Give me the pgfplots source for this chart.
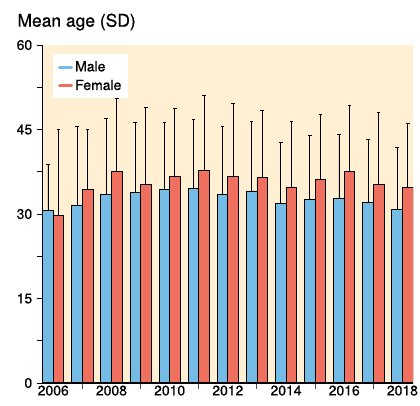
\documentclass[border=0pt]{standalone}
\usepackage{pgfplots}
\pgfplotsset{compat=1.18}
\usepackage{pgfplotstable}
\usepackage{fontspec}
\setmainfont{TeX Gyre Heros}[FakeBold=0.6]
\definecolor{bgC}{RGB}{255,240,212}
\definecolor{blueC}{RGB}{116,187,230}
\definecolor{redC}{RGB}{240,112,96}

\pgfplotstableread{
x y e
2006 30.6 8.2
2007 31.5 14.1
2008 33.5 13.5
2009 33.9 12.4
2010 34.3 12.0
2011 34.6 12.2
2012 33.5 12.1
2013 34.1 12.4
2014 31.8 10.9
2015 32.6 11.4
2016 32.7 11.4
2017 32.1 11.2
2018 30.8 11.0
}\male

\pgfplotstableread{
x y e
2006 29.8 15.2
2007 34.3 10.7
2008 37.6 12.9
2009 35.3 13.7
2010 36.6 12.2
2011 37.7 13.4
2012 36.6 13.1
2013 36.5 11.9
2014 34.8 11.7
2015 36.1 11.6
2016 37.5 11.8
2017 35.3 12.8
2018 34.7 11.4
}\female

\begin{document}
\begin{tikzpicture}
\useasboundingbox (-42.7bp,-23bp) rectangle (377.3bp,383bp);
\begin{axis}[
  scale only axis, width=370.3bp, height=338bp,
  xmin=2005.637, xmax=2018.363, ymin=0, ymax=60,
  ybar, bar width=0.363,
  axis on top,
  axis x line*=bottom, axis y line*=left,
  axis line style={line width=1.2bp, -},
  axis background/.style={fill=bgC},
  ytick={0,15,30,45,60}, minor y tick num=1,
  tick align=outside, major tick length=6bp, minor tick length=6bp,
  tick style={black, line width=0.9bp},
  xtick={2007,2009,...,2017}, xticklabels={},
  x tick style={black!70},
  extra x ticks={2006,2008,...,2018},
  extra x tick labels={2006,2008,2010,2012,2014,2016,2018},
  extra x tick style={major tick length=0pt},
  /pgf/number format/assume math mode=true,
  tick label style={font=\fontsize{14}{14}\selectfont},
  yticklabel style={xshift=-1bp},
  xticklabel style={yshift=1bp},
  legend style={at={(axis description cs:0.0278,0.9734)}, anchor=north west,
    draw=none, fill=white, font=\fontsize{14}{14}\selectfont,
    inner xsep=5bp, inner ysep=5bp, row sep=3bp},
  legend cell align=left,
]
\addplot[bar shift=-0.1815, fill=blueC, draw=black, line width=0.8bp,
  legend image code/.code={\draw[line width=3bp, line cap=round, draw=blueC] (0bp,0bp) -- (12bp,0bp);},
  error bars/.cd, y dir=plus, y explicit,
  error bar style={line width=0.9bp, black},
  error mark options={rotate=90, mark size=1.8bp, line width=0.9bp, black}]
  table[x=x, y=y, y error=e]{\male};
\addlegendentry{Male}
\addplot[bar shift=0.1815, fill=redC, draw=black, line width=0.8bp,
  legend image code/.code={\draw[line width=3bp, line cap=round, draw=redC] (0bp,0bp) -- (12bp,0bp);},
  error bars/.cd, y dir=plus, y explicit,
  error bar style={line width=0.9bp, black},
  error mark options={rotate=90, mark size=1.8bp, line width=0.9bp, black}]
  table[x=x, y=y, y error=e]{\female};
\addlegendentry{Female\hspace{14bp}}
\end{axis}
\node[anchor=base west, font=\fontsize{17.5}{17.5}\selectfont, inner sep=0pt] at (-25.4bp,356.3bp) {Mean age (SD)};
\end{tikzpicture}
\end{document}
